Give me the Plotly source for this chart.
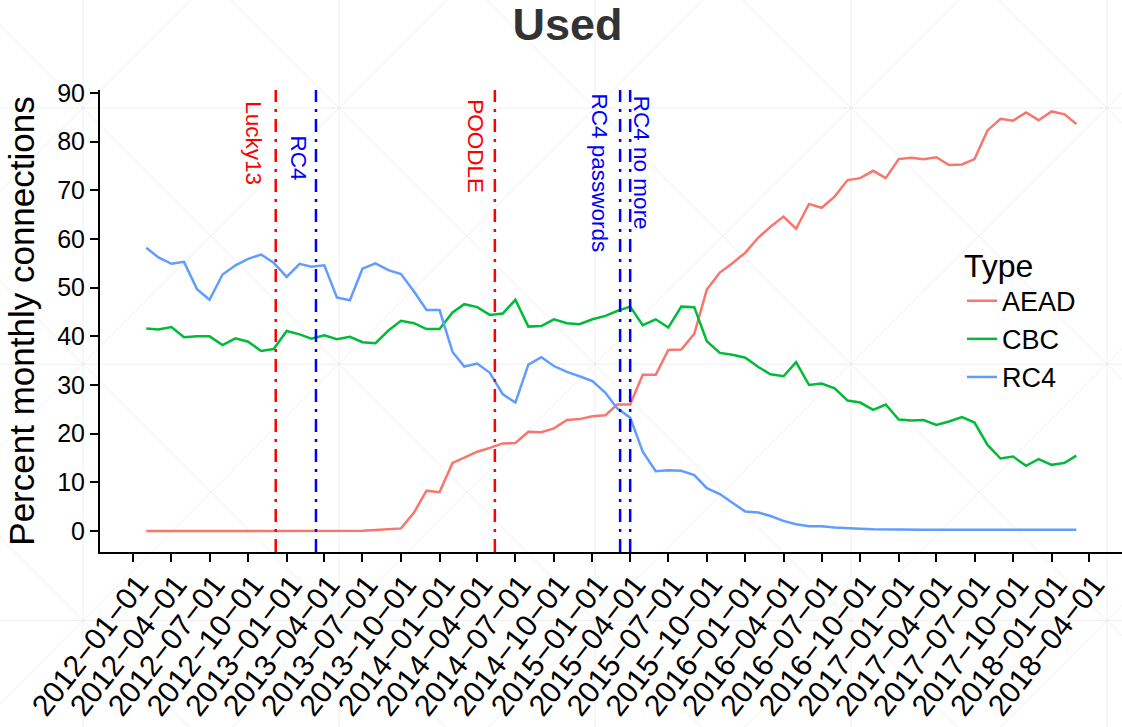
import pandas as pd
import plotly.graph_objects as go

# Monthly share of connections by cipher type, Feb 2012 .. Mar 2018
months = pd.date_range("2012-02-01", periods=74, freq="MS")

aead = [0, 0, 0, 0, 0, 0, 0, 0, 0, 0, 0, 0, 0, 0, 0, 0, 0, 0.05, 0.2, 0.35,
        0.55, 3.8, 8.3, 8.0, 14.0, 15.1, 16.3, 17.1, 18.0, 18.1,
        20.4, 20.3, 21.1, 22.8, 23.0, 23.6, 23.8, 26.0, 26.0, 32.1,
        32.1, 37.2, 37.3, 40.5, 49.6, 53.1, 55.0, 57.2, 60.3, 62.5,
        64.6, 62.1, 67.2, 66.4, 68.7, 72.1, 72.5, 74.0, 72.5, 76.4,
        76.7, 76.4, 76.8, 75.2, 75.3, 76.4, 82.3, 84.7, 84.3, 86.0,
        84.4, 86.2, 85.6, 83.6]

cbc = [41.6, 41.4, 41.9, 39.8, 40.0, 40.0, 38.2, 39.6, 38.9, 37.0,
       37.4, 41.1, 40.4, 39.5, 40.2, 39.4, 39.9, 38.8, 38.6, 41.2,
       43.2, 42.7, 41.5, 41.5, 44.9, 46.6, 46.0, 44.4, 44.7, 47.5,
       42.0, 42.1, 43.5, 42.7, 42.5, 43.5, 44.2, 45.2, 46.1, 42.3,
       43.5, 41.8, 46.1, 46.0, 39.0, 36.6, 36.2, 35.6, 33.7, 32.2,
       31.8, 34.7, 30.0, 30.3, 29.3, 26.8, 26.4, 24.9, 26.0, 22.9,
       22.7, 22.8, 21.8, 22.5, 23.4, 22.3, 17.7, 14.9, 15.3, 13.4,
       14.8, 13.6, 14.0, 15.5]

rc4 = [58.2, 56.2, 54.9, 55.3, 49.7, 47.5, 52.7, 54.6, 55.9, 56.8,
       55.1, 52.2, 54.9, 54.3, 54.6, 48.0, 47.4, 53.9, 55.0, 53.6,
       52.8, 49.2, 45.4, 45.4, 36.8, 33.8, 34.4, 32.5, 28.1, 26.4,
       34.2, 35.7, 33.9, 32.7, 31.8, 30.8, 28.4, 25.2, 23.3, 16.3,
       12.3, 12.5, 12.4, 11.5, 8.8, 7.6, 5.8, 4.0, 3.8, 3.1,
       2.1, 1.4, 1.0, 1.0, 0.75, 0.55, 0.5, 0.35, 0.3, 0.3,
       0.25, 0.25, 0.25, 0.25, 0.3, 0.25, 0.25, 0.3, 0.3, 0.2,
       0.2, 0.2, 0.2, 0.25]

series_names = ["AEAD", "CBC", "RC4"]
series_colors = ["#F8766D", "#00BA38", "#619CFF"]

# Security events marked with vertical lines
event_labels = ["Lucky13", "RC4", "POODLE", "RC4 passwords", "RC4 no more"]
event_dates = ["2012-12-06", "2013-03-12", "2014-05-13", "2015-03-08", "2015-04-01"]
event_colors = ["red", "blue", "red", "blue", "blue"]

# Quarterly ticks on the time axis
tick_dates = pd.date_range("2012-01-01", "2018-04-01", freq="QS")
tick_labels = [d.strftime("%Y\u2212%m\u2212%d") for d in tick_dates]
y_ticks = [0, 10, 20, 30, 40, 50, 60, 70, 80, 90]

W, H = 1122, 727
ML, MR, MT, MB = 100, 0, 90, 175.3
PW, PH = W - ML - MR, H - MT - MB


def px_x(X):
    return (X - ML) / PW


def px_y(Y):
    return (H - MB - Y) / PH


fig = go.Figure()
for name, vals, col in zip(series_names, [aead, cbc, rc4], series_colors):
    fig.add_trace(go.Scatter(x=months, y=vals, name=name, mode="lines",
                             line=dict(color=col, width=2.5)))

shapes = []
# faint background tiling
wm = dict(color="#efefef", width=1)
for k in range(5):
    X = 83 + 256 * k
    shapes.append(dict(type="line", xref="paper", yref="paper", layer="below",
                       x0=px_x(X), x1=px_x(X), y0=px_y(0), y1=px_y(H), line=wm))
for k in range(3):
    Y = 108 + 256 * k
    shapes.append(dict(type="line", xref="paper", yref="paper", layer="below",
                       x0=px_x(0), x1=px_x(W), y0=px_y(Y), y1=px_y(Y), line=wm))
for k in range(-6, 6):
    c = 25 + 256 * k  # y - x = c
    shapes.append(dict(type="line", xref="paper", yref="paper", layer="below",
                       x0=px_x(-800), x1=px_x(2000), y0=px_y(-800 + c), y1=px_y(2000 + c), line=wm))
for k in range(0, 10):
    c = 191 + 256 * k  # y + x = c
    shapes.append(dict(type="line", xref="paper", yref="paper", layer="below",
                       x0=px_x(-800), x1=px_x(2000), y0=px_y(c + 800), y1=px_y(c - 2000), line=wm))

for d, col in zip(event_dates, event_colors):
    shapes.append(dict(type="line", xref="x", yref="paper", x0=d, x1=d, y0=0, y1=1,
                       line=dict(color=col, width=2.5, dash="13px,7px,3px,7px")))

label_tops = [99, 134, 97, 91, 94]
label_shift = [-22, -17, -19, -21, 12]
annotations = []
for lab, d, col, top, sh in zip(event_labels, event_dates, event_colors, label_tops, label_shift):
    annotations.append(dict(x=d, xref="x", y=px_y(top), yref="paper", text=lab,
                            showarrow=False, textangle=90, xanchor="center", yanchor="top",
                            xshift=sh, font=dict(color=col, size=22.5, family="Liberation Sans")))

fig.update_layout(
    width=W, height=H,
    margin=dict(l=ML, r=MR, t=MT, b=MB, autoexpand=False),
    paper_bgcolor="white", plot_bgcolor="rgba(0,0,0,0)",
    font=dict(family="Liberation Sans", color="black"),
    title=dict(text="Used", x=567.5 / W, xref="container", xanchor="center",
               y=1 - 24.5 / H, yref="container", yanchor="middle",
               font=dict(size=45, color="#333333", weight="bold")),
    shapes=shapes, annotations=annotations,
    legend=dict(title=dict(text="Type", font=dict(size=32)), font=dict(size=27),
                x=px_x(962), y=px_y(235), xanchor="left", yanchor="top",
                bgcolor="rgba(0,0,0,0)", tracegroupgap=0),
    showlegend=True,
)
fig.update_xaxes(type="date", range=["2011-10-13 12:00", "2018-06-18"],
                 tickvals=tick_dates, ticktext=tick_labels, tickangle=-52,
                 ticks="outside", ticklen=8, tickwidth=2, tickcolor="black",
                 showline=True, linecolor="black", linewidth=2, automargin=False,
                 showgrid=False, zeroline=False, tickfont=dict(size=30),
                 ticklabelshift=5, ticklabelstandoff=-7)
fig.update_yaxes(range=[-4.3, 90.6], tickvals=y_ticks, automargin=False,
                 ticks="outside", ticklen=8, tickwidth=2, tickcolor="black",
                 showline=True, linecolor="black", linewidth=2,
                 showgrid=False, zeroline=False, tickfont=dict(size=25),
                 title=dict(text="Percent monthly connections", font=dict(size=35), standoff=12))

fig.write_html("out.html")
